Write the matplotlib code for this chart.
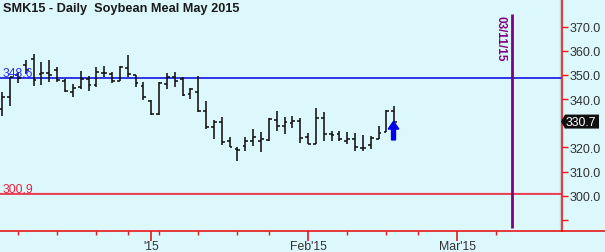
import matplotlib
matplotlib.use("Agg")
import matplotlib.pyplot as plt
import matplotlib.transforms as mtransforms
from matplotlib.patches import Polygon
from matplotlib.lines import Line2D
import pandas as pd

plt.rcParams['font.family'] = ['Liberation Sans', 'DejaVu Sans']

# ---- data ----
title = "SMK15 - Daily  Soybean Meal May 2015"
opens = [336.0, 341.0, 350.0, 354.0, 356.5, 350.4, 351.0, 352.0, 347.6, 342.8,
         344.9, 348.3, 345.9, 351.0, 350.4, 347.6, 352.9, 350.0, 345.6, 339.3,
         333.8, 346.3, 349.0, 348.3, 342.1, 342.8, 335.0, 328.3, 330.6, 322.5,
         319.5, 320.7, 322.8, 322.8, 323.2, 331.5, 329.0, 330.0, 331.0, 324.2,
         321.6, 332.0, 325.5, 325.5, 322.8, 323.3, 319.7, 321.0, 323.5, 326.4,
         335.2]
highs = [342.8, 349.3, 351.1, 356.0, 358.7, 355.5, 356.0, 353.2, 348.3, 346.3,
         351.8, 349.7, 353.2, 353.8, 351.1, 353.6, 358.4, 350.1, 347.2, 339.6,
         347.0, 350.7, 351.1, 349.0, 344.6, 349.7, 339.3, 331.4, 332.5, 324.4,
         320.0, 324.4, 327.6, 326.2, 332.0, 334.9, 332.7, 333.1, 332.0, 325.8,
         336.3, 334.6, 326.9, 327.0, 326.2, 326.0, 325.0, 324.8, 329.0, 335.6,
         337.0]
lows = [333.1, 337.3, 346.6, 350.4, 345.6, 345.8, 347.0, 347.0, 342.8, 340.8,
        344.2, 343.5, 344.9, 349.0, 346.6, 347.4, 349.0, 345.1, 339.6, 333.5,
        333.5, 344.2, 344.9, 341.4, 340.0, 334.6, 327.6, 323.5, 321.0, 320.0,
        314.5, 318.5, 320.7, 318.0, 322.8, 326.9, 325.6, 328.0, 322.0, 321.4,
        321.4, 322.8, 322.8, 322.8, 321.4, 318.6, 318.6, 319.4, 323.5, 326.2,
        330.7]
closes = [341.0, 349.0, 348.8, 352.0, 348.0, 351.0, 350.0, 347.9, 343.5, 344.5,
          348.3, 346.0, 351.4, 351.0, 347.6, 353.2, 350.4, 346.6, 341.0, 333.8,
          346.6, 349.0, 347.6, 341.8, 344.2, 335.2, 328.3, 330.4, 322.1, 320.3,
          319.0, 322.8, 324.2, 323.3, 331.8, 329.0, 330.4, 331.0, 324.0, 321.6,
          332.0, 325.5, 325.2, 323.5, 323.4, 320.0, 319.7, 323.8, 326.0, 335.2,
          330.7]
last_price = 330.7
resistance = 348.6
support = 300.9
marker_date = "2015-03-11"
marker_label = "03/11/15"
arrow_date = "2015-02-18"
arrow_from, arrow_to = 323.1, 330.8
yticks = [290, 300, 310, 320, 330, 340, 350, 360, 370]
major_dates = ["2015-01-02", "2015-02-02", "2015-03-02"]
major_labels = ["'15", "Feb'15", "Mar'15"]
minor_dates = ["2014-12-08", "2014-12-15", "2014-12-22", "2014-12-29",
               "2015-01-05", "2015-01-12", "2015-01-20", "2015-01-26",
               "2015-02-09", "2015-02-17", "2015-02-23", "2015-03-09"]
holidays = ["2014-12-25", "2015-01-01", "2015-01-19", "2015-02-16"]

# trading calendar
cal = pd.bdate_range("2014-12-04", "2015-03-31")
cal = cal[~cal.isin(pd.to_datetime(holidays))]
pos = {d.strftime("%Y-%m-%d"): i for i, d in enumerate(cal)}

BG = '#DCF8FD'
W, H = 605, 253
fig = plt.figure(figsize=(W / 100, H / 100), dpi=100, facecolor=BG)
ax = fig.add_axes([0, (H - 231.5) / H, 562 / W, 231.5 / H], facecolor=BG)

ax.set_xlim(-0.29, 71.39)
ax.set_ylim(285.58, 381.47)
axy = mtransforms.blended_transform_factory(ax.transAxes, ax.transData)

# reference lines
ax.axhline(resistance, color='#0000DD', lw=1.1, zorder=2)
ax.axhline(support + 0.35, color='#F4A0A8', lw=1.0, zorder=2)
ax.axhline(support, color='#E8203A', lw=1.1, zorder=2)
ax.text(0.005, resistance + 1.0, f"{resistance:.1f}", transform=axy,
        color='#2A2AF0', fontsize=8.8, ha='left', va='baseline', zorder=6)
ax.text(0.005, support + 0.7, f"{support:.1f}", transform=axy,
        color='#F0203A', fontsize=8.8, ha='left', va='baseline', zorder=6)

# OHLC bars
tw = 0.36
xs = list(range(len(opens)))
ax.vlines(xs, lows, highs, color='#111111', lw=1.15, zorder=3)
ax.hlines(opens, [x - tw for x in xs], xs, color='#111111', lw=1.15, zorder=3)
ax.hlines(closes, xs, [x + tw for x in xs], color='#111111', lw=1.15, zorder=3)

# arrow
ax.arrow(pos[arrow_date] - 0.1, arrow_from, 0, arrow_to - arrow_from, width=0.5,
         head_width=1.35, head_length=3.2, length_includes_head=True,
         color='#0000F0', zorder=4)

# vertical date marker
mx = pos[marker_date]
ax.vlines(mx, 286.6, 375.3, color='#800080', lw=2.0, zorder=3)
ax.text(mx - 1.4, 375.0, marker_label, rotation=270, color='#800080', fontsize=8.5,
        fontweight='bold', ha='center', va='top', zorder=3)

# light border line inside right axis
ax.axvline(71.39 - 0.2, color='#C4D8DC', lw=1.0, zorder=1)

# axes styling
for s in ['top', 'left']:
    ax.spines[s].set_visible(False)
ax.spines['right'].set_color('#FF1010')
ax.spines['bottom'].set_color('#E81818')
ax.spines['right'].set_linewidth(1.2)
ax.spines['bottom'].set_linewidth(1.2)
ax.yaxis.tick_right()
ax.set_yticks(yticks)
ax.set_yticklabels(["" if v in (290, 330) else f"{v:.1f}" for v in yticks])
ax.tick_params(axis='y', direction='out', length=4, width=1, color='#FF1010',
               labelcolor='#303030', labelsize=9, pad=1.5)
ax.set_xticks([pos[d] for d in major_dates])
ax.set_xticklabels(major_labels)
ax.set_xticks([pos[d] for d in minor_dates], minor=True)
ax.tick_params(axis='x', which='major', direction='out', length=7, width=1.2,
               color='#E81818', labelcolor='#303030', labelsize=8.8, pad=0)
ax.tick_params(axis='x', which='minor', direction='out', length=3, width=1,
               color='#E81818')

# extend bottom axis line to figure edge
fig.add_artist(Line2D([562 / W, 1.0], [(H - 231.5) / H] * 2, color='#E81818', lw=1.2,
                      transform=fig.transFigure))

# last price box
bt = mtransforms.blended_transform_factory(fig.transFigure, ax.transData)
y0, y1 = last_price - 2.9, last_price + 2.9
box = Polygon([(561 / W, last_price), (565 / W, y1), (599 / W, y1), (599 / W, y0), (565 / W, y0)],
              closed=True, transform=bt, facecolor='#101010', edgecolor='none', clip_on=False, zorder=5)
fig.add_artist(box)
fig.text(581 / W, last_price, f"{last_price:.1f}", transform=bt, color='white', fontsize=8.8,
         ha='center', va='center', zorder=6)

# title
fig.text(3 / W, 1 - 9 / H, title, color='#1A1A1A', fontsize=9.2, fontweight='bold',
         ha='left', va='center')

fig.savefig("out.png", dpi=100, facecolor=BG)
